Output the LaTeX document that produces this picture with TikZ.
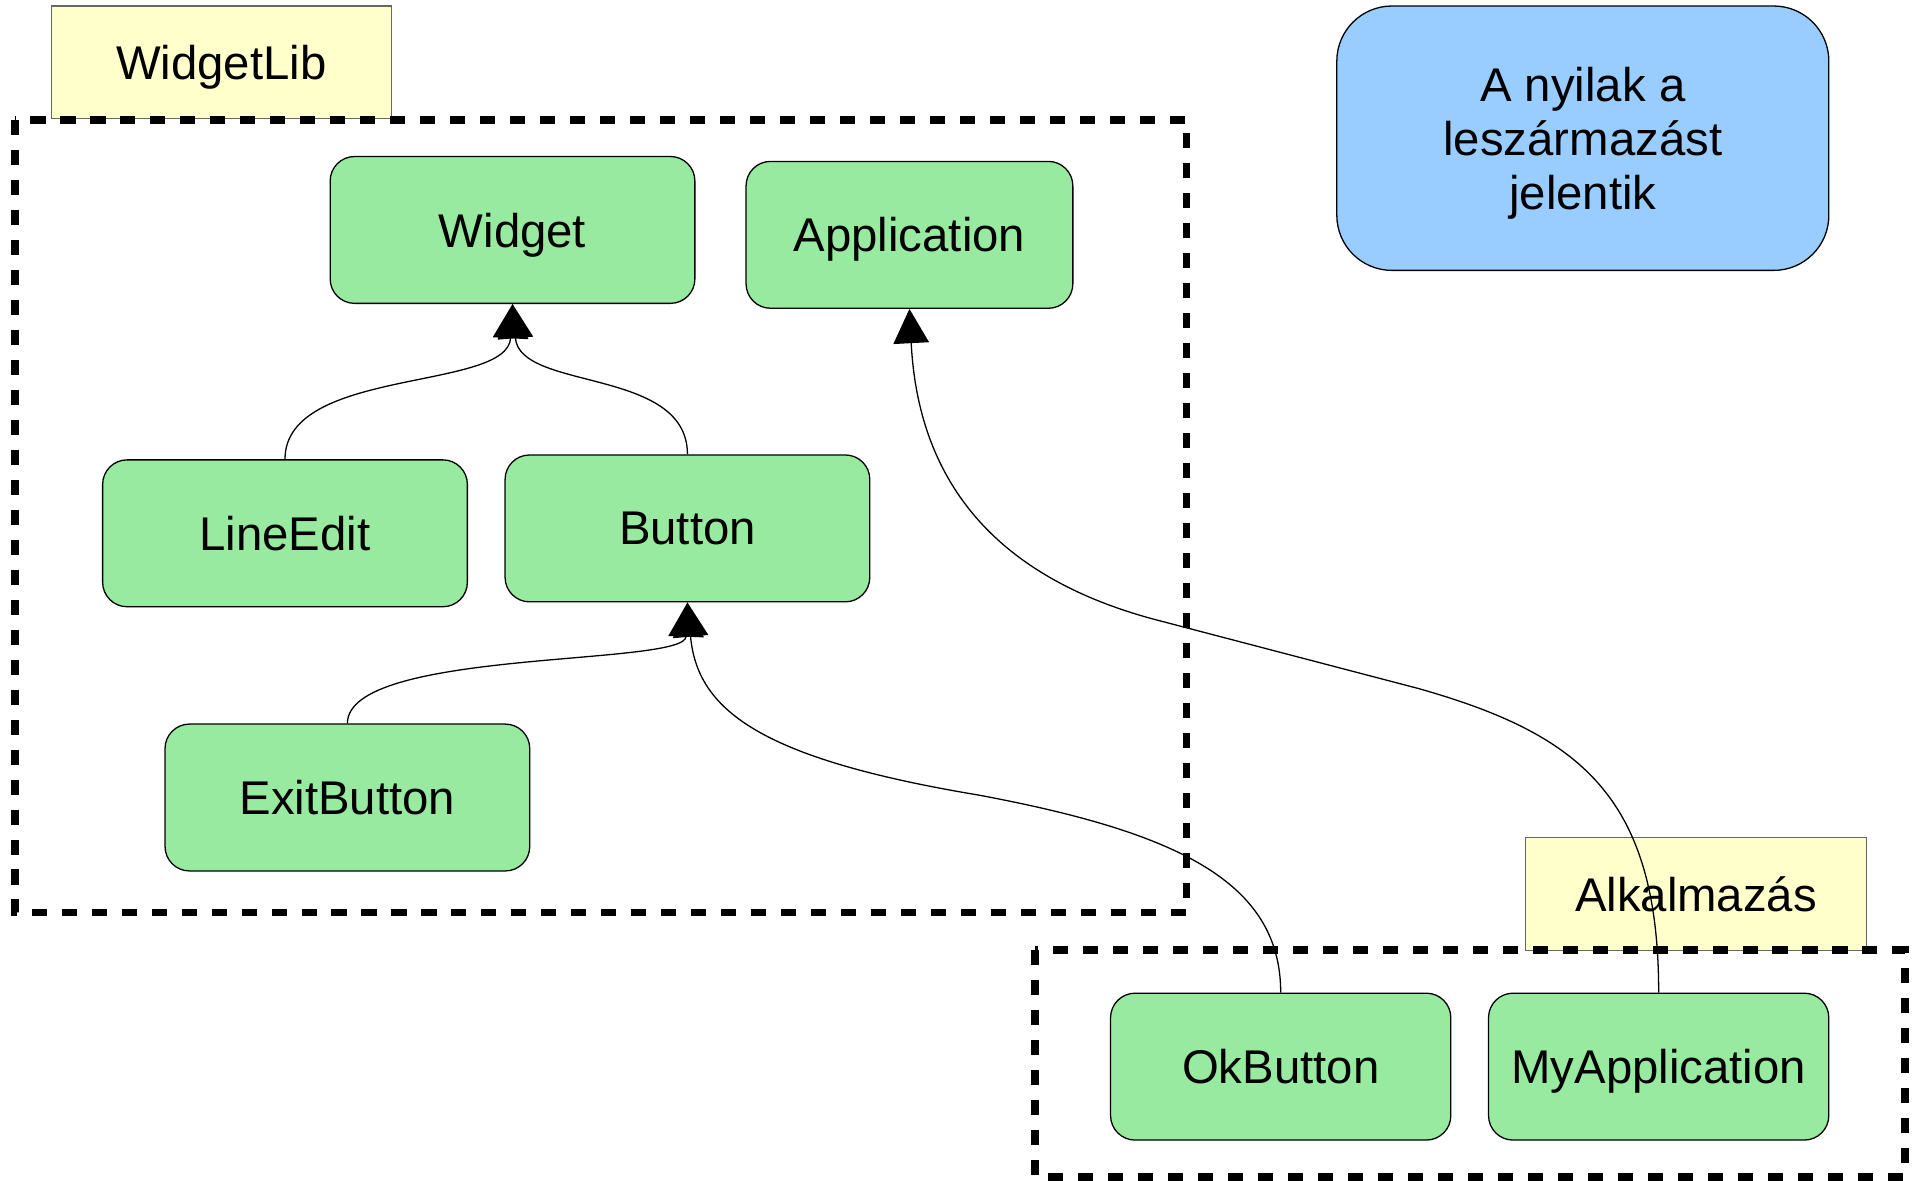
\documentclass[tikz,border=0pt]{standalone}
\usepackage{fontspec}
\setmainfont{Liberation Sans}
\usetikzlibrary{arrows.meta}
\definecolor{clsgreen}{RGB}{152,234,160}
\definecolor{legendblue}{RGB}{153,204,255}
\definecolor{tagyellow}{RGB}{255,255,204}

\begin{document}
\begin{tikzpicture}[x=0.01cm,y=-0.01cm,
  cls/.style={draw,line width=0.3pt,fill=clsgreen,rounded corners=0.2cm,minimum width=2.98cm,minimum height=1.2cm,inner sep=0pt,text depth=0pt,font=\fontsize{11}{12.5}\selectfont},
  pkgtag/.style={draw=gray!80!black,line width=0.3pt,fill=tagyellow,minimum width=2.78cm,minimum height=0.92cm,inner sep=0pt,text depth=0pt,font=\fontsize{11}{12.5}\selectfont},
  groupbox/.style={line width=0.065cm,dash pattern=on 0.123cm off 0.122cm},
  inh/.style={line width=0.3pt,-{Triangle[length=0.28cm,width=0.29cm]}}]
\useasboundingbox (0,0) rectangle (1568,965);

% package labels
\node[pkgtag] (wlib) at (181,51) {WidgetLib};
\node[pkgtag,minimum width=2.79cm] (alk) at (1386.5,731) {Alkalmazás};

% package frames
\draw[groupbox] (12,98) rectangle (970,746);
\draw[groupbox] (846,777) rectangle (1557,962);

% classes
\node[cls] (w) at (419,188) {Widget};
\node[cls,minimum width=2.67cm] (ap) at (743.5,192) {Application};
\node[cls] (le) at (233,436) {LineEdit};
\node[cls] (b) at (562,432) {Button};
\node[cls] (eb) at (284,652) {ExitButton};
\node[cls,minimum width=2.78cm] (ok) at (1047,872) {OkButton};
\node[cls,minimum width=2.78cm] (ma) at (1356,872) {MyApplication};

% legend
\node[draw,line width=0.3pt,fill=legendblue,rounded corners=0.45cm,minimum width=4.02cm,minimum height=2.16cm,align=center,text depth=0pt,font=\fontsize{11}{12.5}\selectfont] (legend) at (1294,113) {A nyilak a\\leszármazást\\jelentik};

% inheritance
\draw[inh] (le.north) .. controls (233,300) and (415,320) .. (w.south);
\draw[inh] (b.north) .. controls (562,300) and (425,320) .. (w.south);
\draw[inh] (eb.north) .. controls (284,530) and (560,545) .. (b.south);
\draw[inh] (ok.north) .. controls (1047,720) and (960,680) .. (800,650) .. controls (620,620) and (570,580) .. (b.south);
\draw[inh] (ma.north) .. controls (1356,650) and (1290,600) .. (1160,563) -- (950,508) .. controls (800,470) and (750,380) .. (ap.south);
\end{tikzpicture}
\end{document}
